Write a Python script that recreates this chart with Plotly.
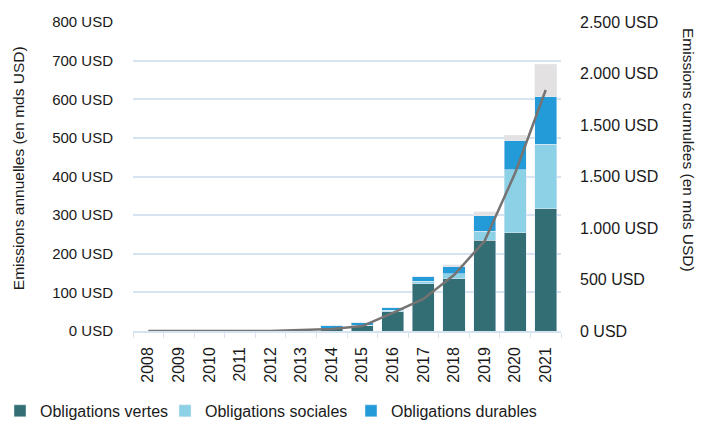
import plotly.graph_objects as go

years = [str(y) for y in range(2008, 2022)]
vertes = [0, 0, 0, 0, 0, 1.5, 7, 15, 50, 122, 135, 235, 254, 316]
sociales = [0, 0, 0, 0, 0, 0, 0, 0.5, 4, 7, 13, 23, 163, 168]
durables = [0, 0, 0, 0, 0, 1.5, 7, 5.5, 6, 11, 18, 40, 76, 122]
autres = [0, 0, 0, 0, 0, 0, 0, 0, 0, 0, 5, 11, 14, 85]
cumul = [0, 0, 0, 0, 0, 8, 16, 40, 146, 259, 453, 728, 1278, 1950]

left_ticks = [0, 100, 200, 300, 400, 500, 600, 700, 800]
left_text = [f"{v} USD" for v in left_ticks]
right_ticks = [0, 2500 / 6, 5000 / 6, 1250, 10000 / 6, 12500 / 6, 2500]
right_text = ["0 USD", "500 USD", "1.000 USD", "1.500 USD", "1.500 USD", "2.000 USD", "2.500 USD"]

FONT = "Liberation Sans, Arial"
GRID = "#d6e3f1"

fig = go.Figure()
fig.add_bar(x=years, y=vertes, name="Obligations vertes", marker_color="#336e75",
            legend="legend")
fig.add_bar(x=years, y=sociales, name="Obligations sociales", marker_color="#8dd1e7",
            legend="legend2")
fig.add_bar(x=years, y=durables, name="Obligations durables", marker_color="#229bd8",
            legend="legend3")
fig.add_bar(x=years, y=autres, name="Autres", marker_color="#e3e1e1", showlegend=False)
fig.add_scatter(x=years, y=cumul, yaxis="y2", mode="lines", name="Cumul",
                line=dict(color="#767373", width=2.5), showlegend=False)

def leg(xpx):
    return dict(orientation="h", x=xpx / 709, xanchor="left", y=0.024, yanchor="middle",
                xref="container", yref="container", bgcolor="rgba(0,0,0,0)",
                font=dict(family=FONT, size=16))

fig.update_layout(
    width=709, height=421,
    margin=dict(l=133, r=148, t=22, b=90, autoexpand=False),
    barmode="stack", bargap=0.28,
    plot_bgcolor="white", paper_bgcolor="white",
    font=dict(family=FONT, size=15, color="#1a1a1a"),
    xaxis=dict(type="category", tickangle=-90, showgrid=False, showline=True,
               linecolor=GRID, linewidth=1.5, ticks="outside", tickson="boundaries",
               ticklen=5, tickcolor=GRID, tickfont=dict(size=16),
               ticklabelstandoff=8),
    yaxis=dict(range=[0, 800], tickvals=left_ticks, ticktext=left_text,
               showgrid=True, gridcolor=GRID, gridwidth=1.5, zeroline=False,
               showline=False, ticks="", tickfont=dict(size=15),
               ticklabelstandoff=19),
    yaxis2=dict(range=[0, 2500], overlaying="y", side="right",
                tickvals=right_ticks, ticktext=right_text, showgrid=False,
                zeroline=False, showline=False, ticks="", tickfont=dict(size=16),
                ticklabelstandoff=18),
    legend=leg(0),
    legend2=leg(165),
    legend3=leg(351),
    annotations=[
        dict(text="Emissions annuelles (en mds USD)", xref="paper", yref="paper",
             x=-0.2687, xanchor="center", y=0.527, yanchor="middle",
             textangle=-90, showarrow=False, font=dict(family=FONT, size=15.5)),
        dict(text="Emissions cumulées (en mds USD)", xref="paper", yref="paper",
             x=1.2967, xanchor="center", y=0.586, yanchor="middle",
             textangle=90, showarrow=False, font=dict(family=FONT, size=15.5)),
    ],
)

fig.write_html("out.html")
